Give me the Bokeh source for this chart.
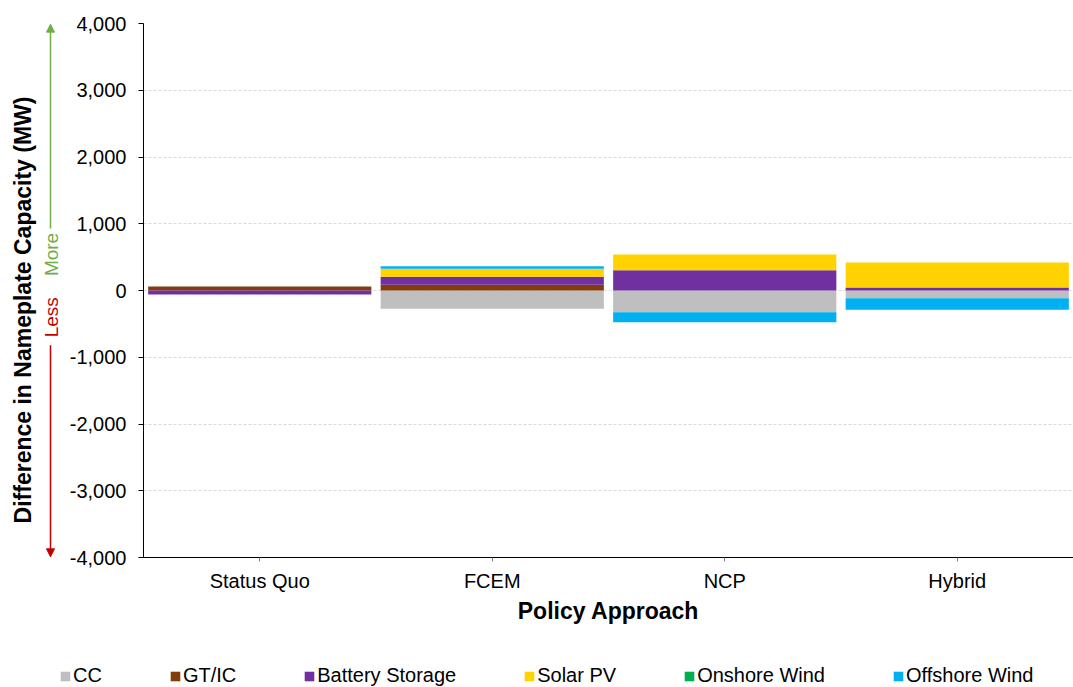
import numpy as np
from bokeh.plotting import figure
from bokeh.layouts import row, column
from bokeh.models import (ColumnDataSource, Legend, LegendItem, NumeralTickFormatter,
                          FixedTicker, Label, Arrow, NormalHead, Range1d)
from bokeh.embed import file_html
from bokeh.resources import INLINE

categories = ["Status Quo", "FCEM", "NCP", "Hybrid"]
series_names = ["CC", "GT/IC", "Battery Storage", "Solar PV", "Onshore Wind", "Offshore Wind"]
cc = [0, -275, -325, -115]
gt_ic = [60, 85, 0, 0]
battery = [-60, 120, 305, 45]
solar = [0, 120, 235, 375]
onshore = [0, 0, 0, 0]
offshore = [0, 40, -150, -175]
colors = ["#BFBFBF", "#843C0C", "#7030A0", "#FFD200", "#00B050", "#00B0F0"]
y_ticks = [-4000, -3000, -2000, -1000, 0, 1000, 2000, 3000, 4000]
y_title = "Difference in Nameplate Capacity (MW)"
x_title = "Policy Approach"

FONT = "Liberation Sans"

# geometry
TOTAL_W = 1073
LEFT_W = 66
MAIN_W = TOTAL_W - LEFT_W
TOP_H = 655
LEG_H = 32
BORDER_TOP = 23
FRAME_H = 534
BORDER_BOTTOM = TOP_H - BORDER_TOP - FRAME_H
Y0, Y1 = -4000, 4000

# ---------------- main chart ----------------
p = figure(x_range=categories, y_range=(Y0, Y1), width=MAIN_W, height=TOP_H,
           output_backend="svg", toolbar_location=None,
           min_border_left=143 - LEFT_W, min_border_right=0, min_border_top=BORDER_TOP,
           min_border_bottom=BORDER_BOTTOM)
p.outline_line_color = None

series = [cc, gt_ic, battery, solar, onshore, offshore]
pos = np.zeros(len(categories))
neg = np.zeros(len(categories))
for name, vals, col in zip(series_names, series, colors):
    v = np.array(vals, dtype=float)
    bottom = np.where(v >= 0, pos, neg)
    top = np.where(v >= 0, pos + v, neg + v)
    pos = np.where(v >= 0, pos + v, pos)
    neg = np.where(v < 0, neg + v, neg)
    src = ColumnDataSource(dict(x=categories, bottom=bottom, top=top))
    p.vbar(x="x", bottom="bottom", top="top", width=0.96, source=src,
           fill_color=col, line_color=None)

p.xgrid.grid_line_color = None
p.ygrid.grid_line_color = "#D9D9D9"
p.ygrid.grid_line_dash = "3 2"
p.ygrid.grid_line_width = 1

p.yaxis.ticker = FixedTicker(ticks=y_ticks)
p.yaxis.formatter = NumeralTickFormatter(format="0,0")
p.yaxis.major_label_text_font = FONT
p.yaxis.major_label_text_font_size = "20px"
p.yaxis.major_label_text_color = "black"
p.yaxis.major_label_standoff = 12
p.yaxis.major_tick_out = 5
p.yaxis.major_tick_in = 0
p.yaxis.minor_tick_out = 0
p.yaxis.minor_tick_in = 0
p.yaxis.axis_line_color = "black"
p.yaxis.major_tick_line_color = "black"

p.xaxis.axis_label = x_title
p.xaxis.axis_label_text_font = FONT
p.xaxis.axis_label_text_font_style = "bold"
p.xaxis.axis_label_text_font_size = "23px"
p.xaxis.axis_label_text_color = "black"
p.xaxis.axis_label_standoff = 3
p.xaxis.major_label_text_font = FONT
p.xaxis.major_label_text_font_size = "20px"
p.xaxis.major_label_text_color = "black"
p.xaxis.major_label_standoff = 8
p.xaxis.major_tick_out = 4
p.xaxis.major_tick_in = 0
p.xaxis.axis_line_color = "black"
p.xaxis.major_tick_line_color = "#7F7F7F"

# ---------------- left strip: y title + More/Less arrows ----------------
lf = figure(x_range=Range1d(0, LEFT_W), y_range=p.y_range,
            width=LEFT_W, height=TOP_H, output_backend="svg", toolbar_location=None,
            x_axis_location=None, y_axis_location=None,
            min_border_left=0, min_border_right=0, min_border_top=BORDER_TOP,
            min_border_bottom=BORDER_BOTTOM)
lf.outline_line_color = None
lf.grid.visible = False

lf.add_layout(Label(x=22, y=-292, text=y_title, angle=np.pi / 2,
                    text_align="center", text_baseline="middle", text_font=FONT,
                    text_font_style="bold", text_font_size="23px", text_color="black"))
AX = 50
lf.add_layout(Arrow(end=NormalHead(size=8, fill_color="#70AD47", line_color="#70AD47"),
                    x_start=AX, y_start=930, x_end=AX, y_end=3990,
                    line_color="#70AD47", line_width=1.5))
lf.add_layout(Arrow(end=NormalHead(size=8, fill_color="#C00000", line_color="#C00000"),
                    x_start=AX, y_start=-820, x_end=AX, y_end=-3990,
                    line_color="#C00000", line_width=1.5))
lf.add_layout(Label(x=AX + 1, y=540, text="More", angle=np.pi / 2,
                    text_align="center", text_baseline="middle", text_font=FONT,
                    text_font_size="19px", text_color="#70AD47"))
lf.add_layout(Label(x=AX + 1, y=-400, text="Less", angle=np.pi / 2,
                    text_align="center", text_baseline="middle", text_font=FONT,
                    text_font_size="19px", text_color="#C00000"))

# ---------------- legend strip ----------------
lg = figure(x_range=Range1d(0, 1), y_range=Range1d(0, 1), width=TOTAL_W, height=LEG_H,
            output_backend="svg", toolbar_location=None,
            x_axis_location=None, y_axis_location=None,
            min_border_left=0, min_border_right=0, min_border_top=0, min_border_bottom=0)
lg.outline_line_color = None
lg.grid.visible = False
items = []
for name, col in zip(series_names, colors):
    # legend proxy: one bar placed outside the visible range so only the key shows
    r = lg.vbar(x=[0.5], bottom=[-3], top=[-2], width=0.1, fill_color=col, line_color=None)
    items.append(LegendItem(label=name, renderers=[r]))
legend = Legend(items=items, orientation="horizontal", location=(59, 0),
                glyph_width=12, glyph_height=12, label_standoff=2, spacing=67,
                padding=0, margin=0, border_line_color=None,
                label_text_font=FONT, label_text_font_size="20px", label_text_color="black",
                background_fill_alpha=0)
lg.add_layout(legend, "center")

layout = column(row(lf, p, spacing=0), lg, spacing=0)
open("out.html", "w").write(file_html(layout, INLINE))
